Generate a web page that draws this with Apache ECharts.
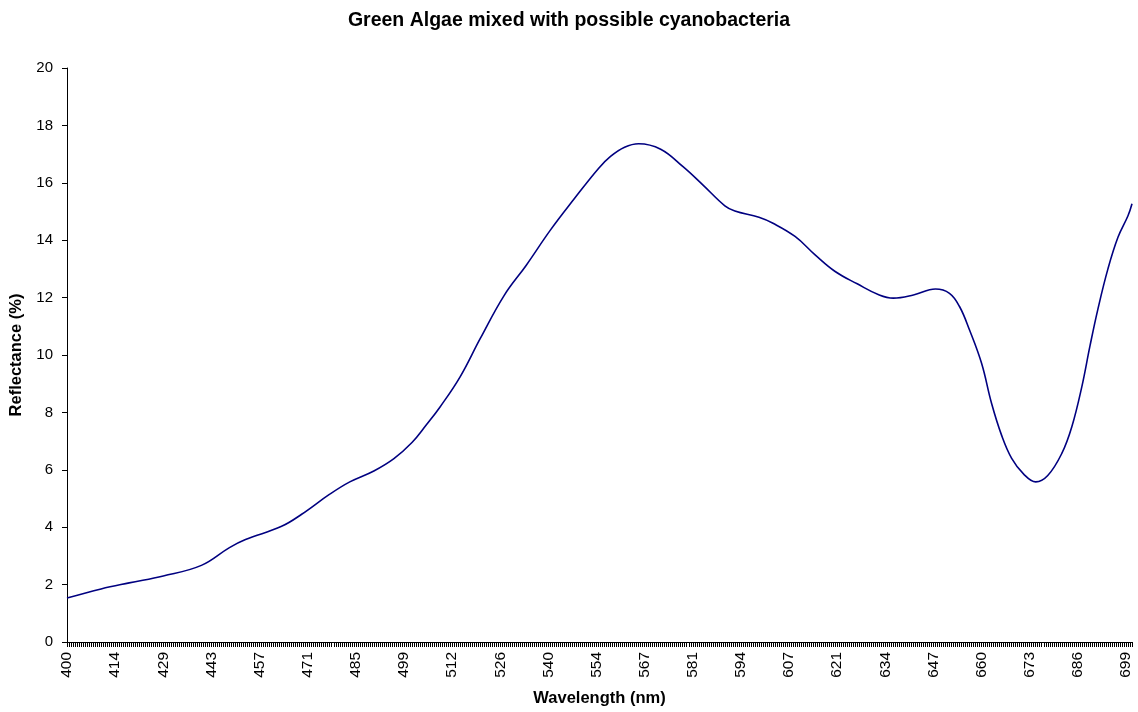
<!DOCTYPE html>
<html>
<head>
<meta charset="utf-8">
<script src="https://cdn.jsdelivr.net/npm/echarts@6/dist/echarts.min.js"></script>
<style>
html,body{margin:0;padding:0;background:#fff;}
#c{width:1138px;height:712px;}
</style>
</head>
<body>
<div id="c"></div>
<script>
// Tick labels shown on the wavelength axis (one every 24 samples)
var tickLabels = [400,414,429,443,457,471,485,499,512,526,540,554,567,581,594,607,621,634,647,660,673,686,699];
var labelEvery = 24;
var sampleCount = 532;

// Curve: sample index along the wavelength axis and reflectance (%)
var sampleIdx = [0,17,31,48,67,81,89,107,117,131,141,153,163,172,179,186,196,206,218,229,241,253,265,271,278,285,296,307,317,328,333,345,352,363,373,383,394,405,412,422,433,440,445,450,456,461,466,471,477,483,489,496,501,506,510,514,519,524,529,531];
var reflectance = [1.53,1.85,2.06,2.30,2.67,3.29,3.57,4.03,4.45,5.15,5.58,5.96,6.39,6.95,7.55,8.19,9.24,10.57,12.08,13.13,14.35,15.45,16.50,16.92,17.24,17.36,17.17,16.57,15.93,15.20,15.02,14.80,14.59,14.13,13.49,12.91,12.48,12.09,11.98,12.09,12.30,12.15,11.69,10.87,9.71,8.31,7.20,6.40,5.85,5.58,5.80,6.57,7.50,8.90,10.30,11.60,13.00,14.10,14.85,15.27];

var categories = [];
for (var i = 0; i < sampleCount; i++) {
  categories.push(i % labelEvery === 0 && tickLabels[i / labelEvery] !== undefined ? String(tickLabels[i / labelEvery]) : '');
}
var points = sampleIdx.map(function (x, k) { return [x, reflectance[k]]; });

var font = 'Liberation Sans, Arial, sans-serif';
var chart = echarts.init(document.getElementById('c'), null, {renderer: 'canvas'});
chart.setOption({
  backgroundColor: '#fff',
  animation: false,
  title: {
    text: 'Green Algae mixed with possible cyanobacteria',
    left: 'center', top: 6,
    textStyle: {fontFamily: font, fontSize: 19.5, fontWeight: 'bold', color: '#000'}
  },
  grid: {left: 67, right: 6, top: 68, bottom: 70, containLabel: false, outerBoundsMode: 'none'},
  xAxis: [{
    type: 'category',
    data: categories,
    boundaryGap: false,
    name: 'Wavelength (nm)',
    nameLocation: 'middle',
    nameGap: 48,
    nameTextStyle: {fontFamily: font, fontSize: 16.5, fontWeight: 'bold', color: '#000'},
    axisLine: {lineStyle: {color: '#000', width: 1}},
    axisTick: {show: true, interval: 0, length: 5, lineStyle: {color: '#000'}},
    axisLabel: {
      interval: function (idx) { return idx % labelEvery === 0; },
      rotate: 90, margin: 10,
      fontFamily: font, fontSize: 15.5, color: '#000'
    },
    splitLine: {show: false}
  }, {
    type: 'value', min: 0, max: sampleCount - 1, show: false
  }],
  yAxis: {
    type: 'value', min: 0, max: 20, interval: 2,
    name: 'Reflectance (%)',
    nameLocation: 'middle',
    nameGap: 39,
    nameTextStyle: {fontFamily: font, fontSize: 16.5, fontWeight: 'bold', color: '#000'},
    axisLine: {show: true, lineStyle: {color: '#000', width: 1}},
    axisTick: {show: true, length: 5, lineStyle: {color: '#000'}},
    axisLabel: {fontFamily: font, fontSize: 15, color: '#000', margin: 14},
    splitLine: {show: false}
  },
  series: [{
    type: 'line',
    xAxisIndex: 1,
    data: points,
    smooth: 0.4,
    symbol: 'none',
    lineStyle: {color: '#000080', width: 1.6}
  }]
});
</script>
</body>
</html>
